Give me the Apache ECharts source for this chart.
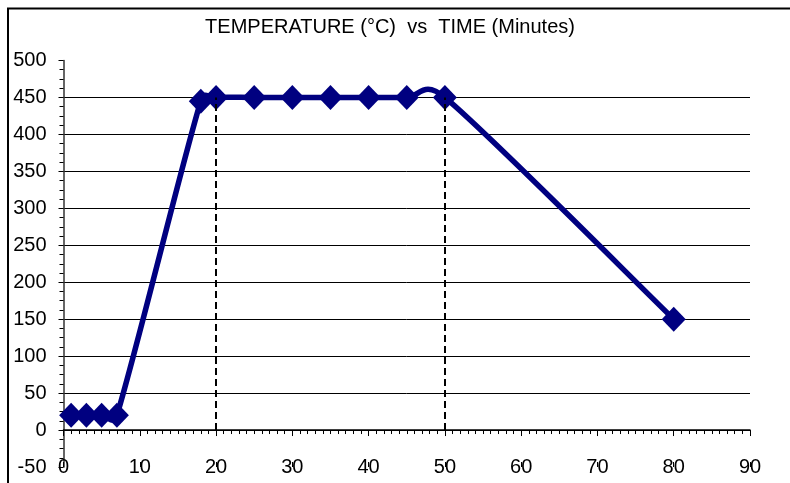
<!DOCTYPE html>
<html><head><meta charset="utf-8">
<script src="https://cdn.jsdelivr.net/npm/echarts@6/dist/echarts.min.js"></script>
<style>html,body{margin:0;padding:0;background:#fff}#c{width:790px;height:483px}</style>
</head><body><div id="c"></div>
<script>
// ---- data ----
const titleText = 'TEMPERATURE (°C)  vs  TIME (Minutes)';
const timeMin = [1, 3, 5, 7, 18, 20, 25, 30, 35, 40, 45, 50, 80];
const tempC   = [20, 20, 20, 20, 445, 450, 450, 450, 450, 450, 450, 450, 150];
const dashX = [20, 50];
const dashTop = 450;
const xMin = 0, xMax = 90, xStep = 10;
const yMin = -50, yMax = 500, yStep = 50;

const points = timeMin.map((x, i) => [x, tempC[i]]);
const FONT = 'Liberation Sans, Arial, sans-serif';
const NAVY = '#000080';

function cap(v, maxLen) {
  const l = Math.hypot(v[0], v[1]);
  if (l > maxLen && l > 0) { const k = maxLen / l; return [v[0] * k, v[1] * k]; }
  return v;
}

const baseX = {type: 'value', min: xMin, max: xMax, interval: xStep, splitLine: {show: false}};

const chart = echarts.init(document.getElementById('c'), null, {renderer: 'canvas'});
chart.setOption({
  animation: false,
  backgroundColor: '#fff',
  grid: {left: 63.5, right: 40, top: 60.5, bottom: 16, containLabel: false, outerBoundsMode: 'none'},
  graphic: [
    {type: 'rect', z: -1, shape: {x: 8, y: 8.5, width: 800, height: 500},
     style: {fill: 'none', stroke: '#000', lineWidth: 2}},
    {type: 'text', x: 390, y: 27,
     style: {text: titleText, align: 'center', verticalAlign: 'middle',
             font: '20px ' + FONT, fill: '#000'}}
  ],
  xAxis: [
    Object.assign({}, baseX, {position: 'bottom',
     axisLine: {show: false, onZero: false},
     axisTick: {show: false},
     axisLabel: {margin: -10, fontFamily: FONT, fontSize: 20, color: '#000'}}),
    Object.assign({}, baseX, {position: 'bottom',
     axisLine: {show: true, onZero: true, lineStyle: {color: '#000', width: 1.5}},
     axisTick: {show: true, inside: false, length: 6, lineStyle: {color: '#000'}},
     minorTick: {show: true, splitNumber: 10, length: 4, lineStyle: {color: '#000'}},
     axisLabel: {show: false}}),
    Object.assign({}, baseX, {position: 'bottom',
     axisLine: {show: true, onZero: true, lineStyle: {color: 'rgba(0,0,0,0)', width: 0}},
     axisTick: {show: true, inside: true, length: 5, lineStyle: {color: '#000'}},
     axisLabel: {show: false}})
  ],
  yAxis: {type: 'value', min: yMin, max: yMax, interval: yStep,
    axisLine: {show: true, onZero: false, lineStyle: {color: '#333', width: 1.5}},
    axisTick: {show: true, inside: false, length: 5, lineStyle: {color: '#000'}},
    minorTick: {show: true, splitNumber: 4, length: 4, lineStyle: {color: '#000'}},
    axisLabel: {margin: 17, fontFamily: FONT, fontSize: 20, color: '#000'},
    splitLine: {show: true, showMinLine: false, showMaxLine: false, lineStyle: {color: '#000', width: 1}}},
  series: [
    {type: 'line', data: [], silent: true, xAxisIndex: 1,
     markLine: {symbol: 'none', silent: true, label: {show: false},
       lineStyle: {color: '#000', type: [7, 4], width: 2},
       data: dashX.map(x => [{coord: [x, 0]}, {coord: [x, dashTop]}])}},
    {type: 'custom', coordinateSystem: 'cartesian2d', data: points, silent: true, z: 3, xAxisIndex: 1,
     renderItem: function (params, api) {
       if (params.dataIndex !== 0) return null;
       const p = points.map(pt => api.coord(pt));
       const n = p.length;
       let d = 'M' + p[0][0] + ' ' + p[0][1];
       for (let i = 0; i < n - 1; i++) {
         const p0 = p[Math.max(i - 1, 0)], p1 = p[i], p2 = p[i + 1], p3 = p[Math.min(i + 2, n - 1)];
         const seg = Math.hypot(p2[0] - p1[0], p2[1] - p1[1]);
         const a1 = cap([(p2[0] - p0[0]) / 6, (p2[1] - p0[1]) / 6], seg * 0.75);
         const a2 = cap([(p3[0] - p1[0]) / 6, (p3[1] - p1[1]) / 6], seg * 0.75);
         d += ' C' + (p1[0] + a1[0]) + ' ' + (p1[1] + a1[1]) + ' ' +
              (p2[0] - a2[0]) + ' ' + (p2[1] - a2[1]) + ' ' + p2[0] + ' ' + p2[1];
       }
       return {type: 'path', shape: {pathData: d},
               style: {fill: 'none', stroke: NAVY, lineWidth: 5.5, lineJoin: 'round', lineCap: 'round'}};
     }},
    {type: 'scatter', data: points, symbol: 'diamond', symbolSize: [24, 25], z: 4, xAxisIndex: 1,
     itemStyle: {color: NAVY, opacity: 1}, silent: true}
  ]
});
</script></body></html>
